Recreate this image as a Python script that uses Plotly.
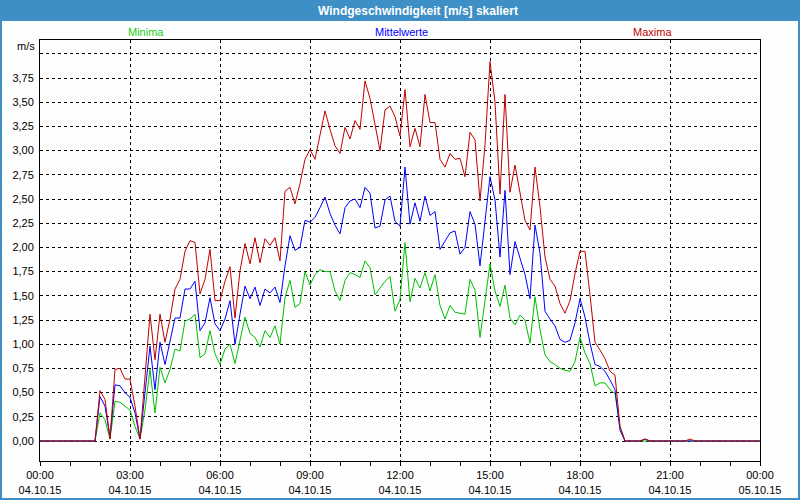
import pandas as pd
import plotly.graph_objects as go

# ---------------- data (10-minute values, 04.10.15 00:00 .. 05.10.15 00:00) ----------------
start_time = "2015-10-04 00:00"
end_time = "2015-10-05 00:00"
times = pd.date_range(start_time, end_time, freq="10min")

series_names = ["Minima", "Mittelwerte", "Maxima"]

minima = [
    0, 0, 0, 0, 0, 0, 0, 0, 0, 0, 0,
    0, 0.29, 0.22, 0.02, 0.41, 0.40, 0.36, 0.32, 0.15, 0.02,
    0.32, 0.74, 0.29, 0.76, 0.60, 0.74, 0.95, 0.93, 1.24, 1.26,
    1.31, 0.86, 0.90, 1.14, 0.90, 0.79, 0.95, 1.00, 0.80, 1.04,
    1.28, 1.11, 1.07, 0.97, 1.14, 1.07, 1.19, 1.00, 1.48, 1.66,
    1.38, 1.42, 1.75, 1.61, 1.72, 1.77, 1.75, 1.75, 1.55, 1.45,
    1.66, 1.74, 1.72, 1.69, 1.86, 1.79, 1.51, 1.58, 1.65, 1.70,
    1.34, 1.46, 2.05, 1.44, 1.68, 1.58, 1.74, 1.55, 1.72, 1.40,
    1.26, 1.40, 1.33, 1.32, 1.31, 1.67, 1.56, 1.07, 1.44, 1.83,
    1.55, 1.39, 1.61, 1.27, 1.20, 1.30, 1.25, 1.01, 1.49, 1.15,
    0.89, 0.82, 0.79, 0.75, 0.73, 0.72, 0.82, 1.07, 0.91, 0.80,
    0.57, 0.60, 0.60, 0.53, 0.49, 0.15, 0,
    0, 0, 0, 0, 0, 0, 0, 0, 0, 0, 0, 0, 0, 0,
    0, 0, 0, 0, 0, 0, 0, 0, 0, 0, 0, 0, 0,
]

mittelwerte = [
    0, 0, 0, 0, 0, 0, 0, 0, 0, 0, 0,
    0, 0.46, 0.36, 0.04, 0.58, 0.57, 0.50, 0.45, 0.29, 0.02,
    0.50, 0.98, 0.53, 1.02, 0.79, 1.02, 1.27, 1.27, 1.57, 1.57,
    1.65, 1.14, 1.22, 1.48, 1.21, 1.14, 1.26, 1.45, 1.00, 1.31,
    1.60, 1.47, 1.59, 1.40, 1.57, 1.53, 1.59, 1.43, 1.81, 2.12,
    1.97, 2.00, 2.28, 2.26, 2.31, 2.41, 2.52, 2.35, 2.23, 2.14,
    2.41, 2.48, 2.50, 2.41, 2.62, 2.56, 2.20, 2.22, 2.49, 2.53,
    2.27, 2.22, 2.83, 2.24, 2.46, 2.27, 2.53, 2.33, 2.37, 1.98,
    2.06, 2.15, 2.17, 1.93, 2.00, 2.37, 2.24, 1.81, 2.27, 2.73,
    2.49, 1.90, 2.59, 1.72, 2.06, 1.90, 1.72, 1.47, 2.23, 1.94,
    1.34, 1.26, 1.19, 1.05, 1.02, 1.04, 1.22, 1.47, 1.28, 1.01,
    0.79, 0.77, 0.72, 0.63, 0.53, 0.11, 0,
    0, 0, 0, 0.02, 0, 0, 0, 0, 0, 0, 0, 0, 0, 0,
    0, 0, 0, 0, 0, 0, 0, 0, 0, 0, 0, 0, 0,
]

maxima = [
    0, 0, 0, 0, 0, 0, 0, 0, 0, 0, 0,
    0, 0.52, 0.43, 0.02, 0.74, 0.75, 0.64, 0.64, 0.36, 0.02,
    0.70, 1.31, 0.84, 1.31, 1.02, 1.26, 1.57, 1.67, 1.96, 2.07,
    2.05, 1.52, 1.67, 1.98, 1.45, 1.45, 1.65, 1.80, 1.27, 1.76,
    2.04, 1.83, 2.10, 1.84, 2.09, 2.02, 2.10, 1.86, 2.58, 2.62,
    2.45, 2.66, 2.91, 3.01, 2.91, 3.17, 3.41, 3.22, 3.05, 2.97,
    3.24, 3.12, 3.31, 3.22, 3.72, 3.54, 3.27, 3.00, 3.42, 3.46,
    3.35, 3.15, 3.63, 3.04, 3.23, 3.04, 3.58, 3.29, 3.29, 2.91,
    2.83, 2.97, 2.91, 2.92, 2.73, 3.19, 3.11, 2.48, 3.06, 3.92,
    3.50, 2.55, 3.58, 2.57, 2.85, 2.55, 2.28, 2.18, 2.83, 2.42,
    1.90, 1.67, 1.60, 1.42, 1.32, 1.45, 1.73, 1.96, 1.96, 1.51,
    1.02, 0.94, 0.85, 0.72, 0.68, 0.15, 0,
    0, 0, 0, 0.02, 0, 0, 0, 0, 0, 0, 0, 0, 0.02, 0,
    0, 0, 0, 0, 0, 0, 0, 0, 0, 0, 0, 0, 0,
]

y_tickvals = [0, 0.25, 0.5, 0.75, 1.0, 1.25, 1.5, 1.75, 2.0, 2.25, 2.5, 2.75,
              3.0, 3.25, 3.5, 3.75, 4.0]
y_ticktext = ["0,00", "0,25", "0,50", "0,75", "1,00", "1,25", "1,50", "1,75",
              "2,00", "2,25", "2,50", "2,75", "3,00", "3,25", "3,50", "3,75", ""]

title_text = "Windgeschwindigkeit [m/s] skaliert"
unit_text = "m/s"

# ---------------- styling ----------------
colors = {"Minima": "#00c000", "Mittelwerte": "#0000ff", "Maxima": "#c00000"}
label_colors = {"Minima": "#22cc22", "Mittelwerte": "#0000ff", "Maxima": "#c00000"}
BAR = "#3d8fc6"
FONT = "Liberation Sans"

W, H = 800, 508
L, R, T, B = 40, 760, 40, 461


def fx(px):
    return (px - L) / (R - L)


def fy(py):
    return (B - py) / (B - T)


fig = go.Figure()
for name, vals in zip(series_names, [minima, mittelwerte, maxima]):
    fig.add_trace(go.Scatter(
        x=times, y=vals, mode="lines", name=name,
        line=dict(color=colors[name], width=1),
        hoverinfo="x+y+name",
    ))

shapes = [
    # title bar
    dict(type="rect", xref="paper", yref="paper",
         x0=fx(0), x1=fx(800), y0=fy(21), y1=fy(0),
         fillcolor=BAR, line=dict(width=0), layer="below"),
    # outer frame
    dict(type="rect", xref="paper", yref="paper",
         x0=fx(1), x1=fx(799), y0=fy(499), y1=fy(1),
         line=dict(color=BAR, width=2), fillcolor="rgba(0,0,0,0)", layer="above"),
]

annotations = [
    dict(text="<b>" + title_text + "</b>", x=fx(418), y=fy(10.5), xref="paper", yref="paper",
         showarrow=False, xanchor="center", yanchor="middle",
         font=dict(family=FONT, size=12, color="white")),
    dict(text=unit_text, x=fx(37), y=fy(46), xref="paper", yref="paper",
         showarrow=False, xanchor="right", yanchor="middle",
         font=dict(family=FONT, size=11, color="black")),
]
for name, cx in zip(series_names, [146, 401, 652]):
    annotations.append(dict(text=name, x=fx(cx), y=fy(32), xref="paper", yref="paper",
                            showarrow=False, xanchor="center", yanchor="middle",
                            font=dict(family=FONT, size=11, color=label_colors[name])))

y_top = (441 - T) / 96.8
y_bot = (441 - B) / 96.8

fig.update_layout(
    width=W, height=H,
    margin=dict(l=L, r=W - R, t=T, b=H - B, pad=0),
    paper_bgcolor="#fdfefd",
    plot_bgcolor="#fdfefd",
    showlegend=False,
    separators=", ",
    font=dict(family=FONT, size=11, color="black"),
    shapes=shapes,
    annotations=annotations,
    xaxis=dict(
        type="date",
        range=[start_time, end_time],
        tickmode="linear", tick0=start_time, dtick=3 * 3600 * 1000,
        tickformat="%H:%M<br>%d.%m.%y",
        ticks="outside", ticklen=4, tickcolor="black",
        minor=dict(dtick=3600 * 1000, ticks="outside", ticklen=4, tickcolor="black", showgrid=False),
        showgrid=True, gridcolor="black", gridwidth=1, griddash="3px,3px",
        showline=True, linecolor="black", linewidth=1, mirror=True,
        zeroline=False,
        tickfont=dict(family=FONT, size=11, color="black"),
    ),
    yaxis=dict(
        range=[y_bot, y_top],
        tickmode="array", tickvals=y_tickvals, ticktext=y_ticktext,
        ticks="", ticklabelstandoff=3,
        showgrid=True, gridcolor="black", gridwidth=1, griddash="3px,3px",
        showline=True, linecolor="black", linewidth=1, mirror=True,
        zeroline=False,
        tickfont=dict(family=FONT, size=11, color="black"),
    ),
)

fig.write_html(
    "out.html",
    config={"displayModeBar": False, "responsive": False},
    post_script="document.body.style.margin='0px';document.body.style.overflow='hidden';",
)
